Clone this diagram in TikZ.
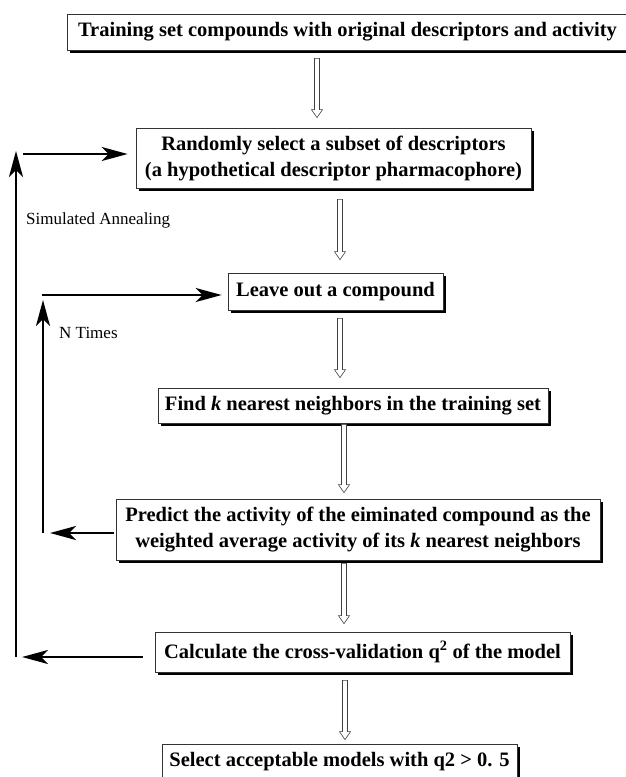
\documentclass[tikz,border=0pt]{standalone}
\usepackage{fontspec}
\setmainfont{Liberation Serif}
\usetikzlibrary{arrows.meta,shadows,calc}
\begin{document}
\begin{tikzpicture}[x=1pt,y=-1pt,
  box/.style={draw=black!80, line width=0.7pt, fill=white, rectangle, inner sep=0pt,
    font=\fontsize{20.5}{26}\selectfont\bfseries, align=center,
    drop shadow={shadow xshift=2.8pt, shadow yshift=-2.8pt, fill=black, opacity=1}},
  lbl/.style={font=\fontsize{17}{20}\selectfont, inner sep=0pt, anchor=west},
  blk/.style={line width=2.8pt, -{Stealth[length=26pt,width=14pt,inset=7pt]}},
  hollow/.style={draw=black!75, line width=0.6pt, fill=white, to path={
    let \p1=(\tikztostart), \p2=(\tikztotarget) in
    (\x1-2.5pt,\y1) -- (\x1+2.5pt,\y1) -- (\x1+2.5pt,\y2+8pt) -- (\x1+5.5pt,\y2+8pt)
    -- (\x1,\y2) -- (\x1-5.5pt,\y2+8pt) -- (\x1-2.5pt,\y2+8pt) -- cycle}}
]
\useasboundingbox (0,0) rectangle (625,777);

\node[box, minimum width=561pt, minimum height=36pt] (b1) at (347.5,32)
  {Training set compounds with original descriptors and activity};
\node[box, minimum width=395pt, minimum height=60pt] (b2) at (333.5,158)
  {Randomly select a subset of descriptors\\(a hypothetical descriptor pharmacophore)};
\node[box, minimum width=215pt, minimum height=37pt] (b3) at (335.5,291.5)
  {Leave out a compound};
\node[box, minimum width=390pt, minimum height=35pt] (b4) at (353,405.5)
  {Find \textit{k} nearest neighbors in the training set};
\node[box, minimum width=484pt, minimum height=61pt] (b5) at (358,529.5)
  {Predict the activity of the eiminated compound as the\\weighted average activity of its \textit{k} nearest neighbors};
\node[box, minimum width=415pt, minimum height=40pt] (b6) at (362.5,652)
  {Calculate the cross-validation q\textsuperscript{2} of the model};
\node[box, minimum width=355pt, minimum height=36pt] (b7) at (339.5,762)
  {Select acceptable models with q2 > 0. 5};

% hollow flow arrows
\draw[hollow] ([xshift=-30.5pt,yshift=-8pt]b1.south) to ([yshift=10pt]b2.north);
\draw[hollow] ([xshift=6.5pt,yshift=-11pt]b2.south) to ([yshift=13pt]b3.north);
\draw[hollow] ([xshift=4.5pt,yshift=-8pt]b3.south) to ([yshift=10pt]b4.north);
\draw[hollow] ([xshift=-9pt,yshift=-1pt]b4.south) to ([yshift=6pt]b5.north);
\draw[hollow] ([xshift=-14pt,yshift=-3pt]b5.south) to ([yshift=8pt]b6.north);
\draw[hollow] ([xshift=-17.5pt,yshift=-8pt]b6.south) to ([yshift=4pt]b7.north);

% simulated annealing loop
\coordinate (sa1) at (16,657);
\coordinate (sa2) at (16,151);
\coordinate (sa3) at (23,154);
\draw[blk] ([xshift=-12pt]b6.west |- sa1) -- ([xshift=6pt]sa1);
\draw[blk] (sa1) -- (sa2);
\draw[blk] (sa3) -- ([xshift=-8pt]b2.west |- sa3);
\node[lbl] (salbl) at (26,220) {Simulated Annealing};

% N times loop
\coordinate (nt1) at (43,533);
\coordinate (nt2) at (43,300);
\coordinate (nt3) at (42,295);
\draw[blk] ([xshift=-2pt]b5.west |- nt1) -- ([xshift=7pt]nt1);
\draw[blk] (nt1) -- (nt2);
\draw[blk] (nt3) -- ([xshift=-6pt]b3.west |- nt3);
\node[lbl] (ntlbl) at (59,333) {N Times};
\end{tikzpicture}
\end{document}
